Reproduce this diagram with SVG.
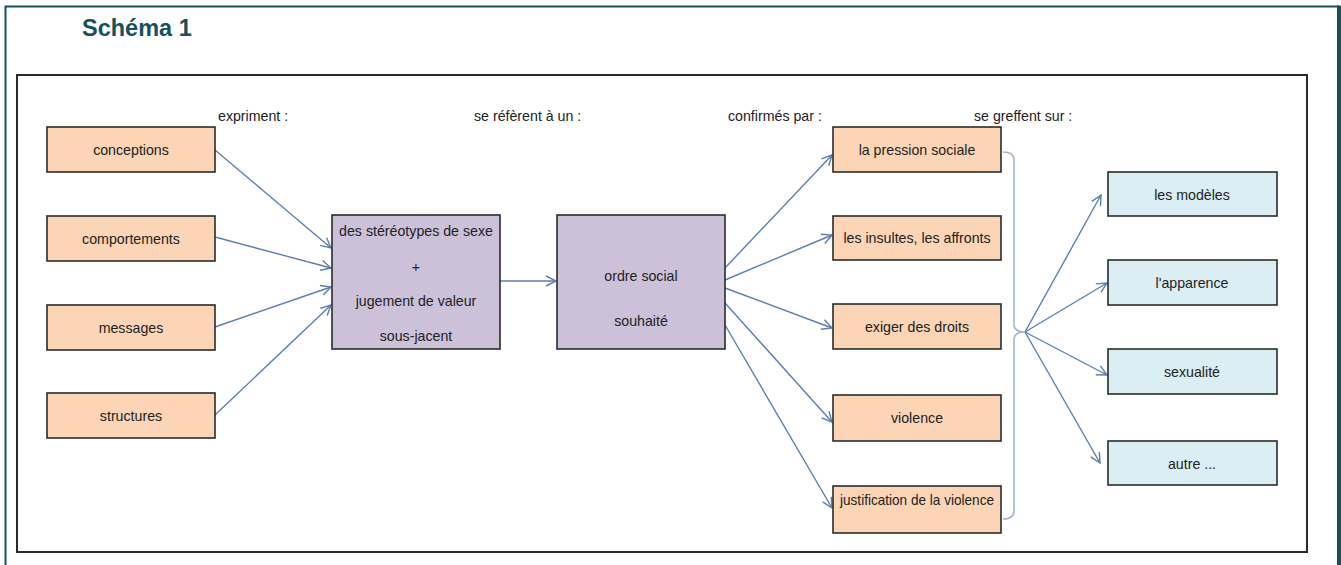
<svg xmlns="http://www.w3.org/2000/svg" width="1341" height="565" viewBox="0 0 1341 565">
<style>
text{font-family:"Liberation Sans",Arial,sans-serif;font-size:14.2px;fill:#222;text-anchor:middle}
.lbl{text-anchor:start}
.o{fill:#fbd5b5;stroke:#2b2b2b;stroke-width:1.6}
.p{fill:#cdc1da;stroke:#2b2b2b;stroke-width:1.6}
.b{fill:#dbeef3;stroke:#2b2b2b;stroke-width:1.6}
.c line{stroke:#5b7fb0;stroke-width:1.4;marker-end:url(#ah)}
.t{font-size:23.5px;font-weight:bold;fill:#17505f;text-anchor:start}
</style>
<defs>
<marker id="ah" viewBox="0 0 12 12" refX="11" refY="6" markerWidth="12" markerHeight="12" markerUnits="userSpaceOnUse" orient="auto">
<path d="M1,1 L11,6 L1,11" fill="none" stroke="#5b7fb0" stroke-width="1.4"/>
</marker>
</defs>
<rect width="1341" height="565" fill="#fff"/>
<g id="page-border" fill="none" stroke="#17505f">
<path d="M5.5,565 V6.5 H1339" stroke-width="2"/>
<line x1="1339" y1="5.5" x2="1339" y2="565" stroke-width="4"/>
</g>
<text class="t" x="82" y="36">Schéma 1</text>
<rect id="frame" x="17" y="75" width="1290" height="477" fill="none" stroke="#2b2b2b" stroke-width="2"/>
<g id="labels">
<text class="lbl" x="218" y="121">expriment :</text>
<text class="lbl" x="474" y="121">se réfèrent à un :</text>
<text class="lbl" x="728" y="121">confirmés par :</text>
<text class="lbl" x="974" y="121">se greffent sur :</text>
</g>
<g class="c" id="connectors">
<line x1="215" y1="150" x2="331" y2="248"/>
<line x1="215" y1="237" x2="331" y2="268"/>
<line x1="215" y1="327" x2="331" y2="287"/>
<line x1="215" y1="415" x2="331" y2="305"/>
<line x1="500" y1="281" x2="556" y2="281"/>
<line x1="725" y1="268" x2="832" y2="155"/>
<line x1="725" y1="280" x2="832" y2="235"/>
<line x1="725" y1="288" x2="832" y2="328"/>
<line x1="725" y1="303" x2="832" y2="422"/>
<line x1="725" y1="325" x2="832" y2="508"/>
<line x1="1025" y1="332" x2="1101" y2="195"/>
<line x1="1025" y1="332" x2="1107" y2="283"/>
<line x1="1025" y1="332" x2="1107" y2="375"/>
<line x1="1025" y1="332" x2="1100" y2="463"/>
<path id="bracket" d="M1003,152 Q1014,152 1014,160 V324 Q1014,332 1025,332 Q1014,332 1014,340 V511 Q1014,519 1003,519" fill="none" stroke="#a3b6cf" stroke-width="1.6"/>
</g>
<g id="n-conceptions"><rect class="o" x="47" y="127" width="168" height="45"/><text x="131" y="155">conceptions</text></g>
<g id="n-comportements"><rect class="o" x="47" y="216" width="168" height="45"/><text x="131" y="244">comportements</text></g>
<g id="n-messages"><rect class="o" x="47" y="305" width="168" height="45"/><text x="131" y="333">messages</text></g>
<g id="n-structures"><rect class="o" x="47" y="393" width="168" height="45"/><text x="131" y="421">structures</text></g>
<g id="n-stereotypes"><rect class="p" x="332" y="215" width="168" height="134"/>
<text x="416" y="236">des stéréotypes de sexe</text>
<text x="416" y="272">+</text>
<text x="416" y="306">jugement de valeur</text>
<text x="416" y="341">sous-jacent</text></g>
<g id="n-ordre"><rect class="p" x="557" y="215" width="168" height="134"/>
<text x="641" y="281">ordre social</text>
<text x="641" y="326">souhaité</text></g>
<g id="n-pression"><rect class="o" x="833" y="127" width="168" height="45"/><text x="917" y="155">la pression sociale</text></g>
<g id="n-insultes"><rect class="o" x="833" y="216" width="168" height="44"/><text x="917" y="243">les insultes, les affronts</text></g>
<g id="n-droits"><rect class="o" x="833" y="304" width="168" height="45"/><text x="917" y="332">exiger des droits</text></g>
<g id="n-violence"><rect class="o" x="833" y="395" width="168" height="46"/><text x="917" y="423">violence</text></g>
<g id="n-justification"><rect class="o" x="833" y="486" width="168" height="47"/><text x="917" y="505" textLength="154" lengthAdjust="spacingAndGlyphs">justification de la violence</text></g>
<g id="n-modeles"><rect class="b" x="1108" y="172" width="169" height="44"/><text x="1192" y="200">les modèles</text></g>
<g id="n-apparence"><rect class="b" x="1108" y="260" width="169" height="45"/><text x="1192" y="288">l'apparence</text></g>
<g id="n-sexualite"><rect class="b" x="1108" y="349" width="169" height="45"/><text x="1192" y="377">sexualité</text></g>
<g id="n-autre"><rect class="b" x="1108" y="441" width="169" height="44"/><text x="1192" y="469">autre ...</text></g>
</svg>
